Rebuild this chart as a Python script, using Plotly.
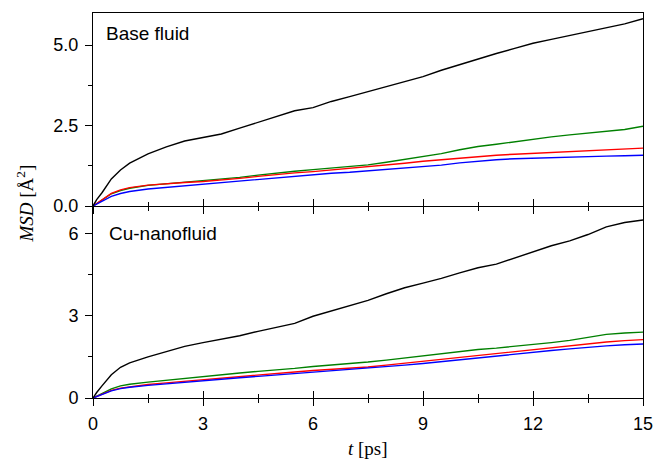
import plotly.graph_objects as go

# time axis (ps)
t = [0, 0.1, 0.25, 0.5, 0.75, 1, 1.5, 2, 2.5, 3, 3.5, 4, 4.5, 5, 5.5, 6, 6.5, 7, 7.5,
     8, 8.5, 9, 9.5, 10, 10.5, 11, 11.5, 12, 12.5, 13, 13.5, 14, 14.5, 15]

# Base fluid MSD
base_black = [0, 0.20, 0.42, 0.84, 1.12, 1.33, 1.62, 1.84, 2.02, 2.14, 2.24, 2.42, 2.60, 2.80,
              2.96, 3.06, 3.25, 3.40, 3.56, 3.70, 3.86, 4.02, 4.22, 4.40, 4.58, 4.74, 4.90,
              5.06, 5.18, 5.30, 5.43, 5.53, 5.66, 5.82]
base_green = [0, 0.08, 0.20, 0.38, 0.48, 0.55, 0.64, 0.69, 0.74, 0.77, 0.82, 0.89, 0.96, 1.03,
              1.08, 1.13, 1.18, 1.23, 1.28, 1.36, 1.45, 1.52, 1.63, 1.75, 1.85, 1.92, 2.00,
              2.09, 2.15, 2.21, 2.26, 2.31, 2.38, 2.48]
base_red = [0, 0.08, 0.21, 0.39, 0.50, 0.57, 0.65, 0.70, 0.73, 0.76, 0.80, 0.86, 0.92, 0.98,
            1.03, 1.07, 1.12, 1.17, 1.21, 1.27, 1.33, 1.39, 1.44, 1.50, 1.55, 1.58, 1.61,
            1.64, 1.67, 1.69, 1.71, 1.74, 1.77, 1.80]
base_blue = [0, 0.06, 0.15, 0.30, 0.39, 0.45, 0.53, 0.58, 0.63, 0.66, 0.71, 0.76, 0.82, 0.88,
             0.93, 0.98, 1.02, 1.05, 1.09, 1.13, 1.17, 1.21, 1.27, 1.34, 1.40, 1.44, 1.47,
             1.49, 1.51, 1.53, 1.54, 1.55, 1.56, 1.58]

# Cu-nanofluid MSD
cu_black = [0, 0.20, 0.45, 0.85, 1.12, 1.28, 1.50, 1.70, 1.88, 2.02, 2.14, 2.27, 2.43, 2.57,
            2.72, 2.98, 3.18, 3.36, 3.56, 3.80, 4.02, 4.19, 4.36, 4.56, 4.75, 4.88, 5.10,
            5.34, 5.55, 5.73, 5.96, 6.24, 6.40, 6.49]
cu_green = [0, 0.07, 0.18, 0.33, 0.44, 0.50, 0.58, 0.65, 0.72, 0.79, 0.85, 0.91, 0.97, 1.02,
            1.08, 1.15, 1.20, 1.25, 1.31, 1.38, 1.46, 1.54, 1.62, 1.70, 1.77, 1.82, 1.88,
            1.95, 2.02, 2.10, 2.20, 2.32, 2.37, 2.40]
cu_red = [0, 0.06, 0.15, 0.28, 0.36, 0.41, 0.49, 0.55, 0.61, 0.66, 0.72, 0.78, 0.84, 0.89,
          0.95, 1.00, 1.04, 1.08, 1.13, 1.20, 1.27, 1.34, 1.41, 1.48, 1.55, 1.62, 1.70,
          1.77, 1.84, 1.91, 1.98, 2.04, 2.09, 2.13]
cu_blue = [0, 0.05, 0.14, 0.26, 0.34, 0.39, 0.46, 0.52, 0.58, 0.63, 0.68, 0.74, 0.79, 0.84,
           0.90, 0.95, 0.99, 1.03, 1.08, 1.14, 1.20, 1.26, 1.33, 1.40, 1.47, 1.53, 1.60,
           1.67, 1.73, 1.79, 1.85, 1.90, 1.94, 1.97]

x_ticks = [0, 3, 6, 9, 12, 15]
top_yticks = [0, 2.5, 5.0]
top_ylabels = ["0.0", "2.5", "5.0"]
bot_yticks = [0, 3, 6]
bot_ylabels = ["0", "3", "6"]

colors = ["#008000", "#ff0000", "#0000ff", "#000000"]
top_series = [base_green, base_red, base_blue, base_black]
bot_series = [cu_green, cu_red, cu_blue, cu_black]

fig = go.Figure()
for ys, c in zip(top_series, colors):
    fig.add_trace(go.Scatter(x=t, y=ys, mode="lines", line=dict(color=c, width=1.4),
                             xaxis="x", yaxis="y", showlegend=False, hoverinfo="skip"))
for ys, c in zip(bot_series, colors):
    fig.add_trace(go.Scatter(x=t, y=ys, mode="lines", line=dict(color=c, width=1.4),
                             xaxis="x2", yaxis="y2", showlegend=False, hoverinfo="skip"))
# empty traces to register overlay axes (used for ticks crossing the axis lines)
fig.add_trace(go.Scatter(x=[], y=[], xaxis="x3", yaxis="y", showlegend=False))
fig.add_trace(go.Scatter(x=[], y=[], xaxis="x4", yaxis="y2", showlegend=False))

split = 0.4987
tickfont = dict(family="Liberation Sans, Arial", size=18, color="black")

common_x = dict(range=[0, 15], tickvals=x_ticks, showgrid=False, zeroline=False,
                linecolor="black", linewidth=1, tickcolor="black", tickwidth=1,
                ticklen=7, automargin=False, ticklabeloverflow="allow",
                minor=dict(tick0=0, dtick=1.5, ticklen=4, tickcolor="black", tickwidth=1,
                           showgrid=False),
                fixedrange=True)

common_y = dict(ticks="outside", ticklen=7, tickcolor="black", tickwidth=1,
                showline=True, mirror=True, linecolor="black", linewidth=1,
                showgrid=False, zeroline=False, tickfont=tickfont, ticklabelstandoff=3,
                automargin=False, ticklabeloverflow="allow", fixedrange=True)

fig.update_layout(
    width=653, height=461,
    margin=dict(l=93, r=10, t=13, b=63, autoexpand=False),
    paper_bgcolor="white", plot_bgcolor="white",
    xaxis=dict(common_x, anchor="y", domain=[0, 1], ticks="inside", showticklabels=False,
               showline=True, mirror=True, minor_ticks="inside"),
    xaxis3=dict(common_x, anchor="y", overlaying="x", ticks="outside", showticklabels=False,
                showline=False, minor_ticks="outside"),
    xaxis2=dict(common_x, anchor="y2", domain=[0, 1], ticks="outside", showticklabels=True,
                showline=True, mirror=False, minor_ticks="outside", tickfont=tickfont,
                ticklabelstandoff=2),
    xaxis4=dict(common_x, anchor="y2", overlaying="x2", ticks="inside", showticklabels=False,
                showline=False, minor_ticks="inside"),
    yaxis=dict(common_y, domain=[split, 1], range=[0, 6], tickvals=top_yticks,
               ticktext=top_ylabels,
               minor=dict(tickvals=[1.25, 3.75], ticklen=4, ticks="outside", tickcolor="black"),
               anchor="x"),
    yaxis2=dict(common_y, domain=[0, split], range=[0, 7], tickvals=bot_yticks,
                ticktext=bot_ylabels,
                minor=dict(tickvals=[1.5, 4.5], ticklen=4, ticks="outside", tickcolor="black"),
                anchor="x2"),
    annotations=[
        dict(text="Base fluid", xref="paper", yref="paper", x=11 / 550, y=0.947,
             xanchor="left", yanchor="middle", showarrow=False,
             font=dict(family="Liberation Sans, Arial", size=19, color="black")),
        dict(text="Cu-nanofluid", xref="paper", yref="paper", x=14 / 550, y=0.428,
             xanchor="left", yanchor="middle", showarrow=False,
             font=dict(family="Liberation Sans, Arial", size=19, color="black")),
        dict(text="<i>MSD</i> [Å<sup>2</sup>]", xref="paper", yref="paper", x=0, y=0.505,
             xanchor="center", yanchor="middle", xshift=-68, textangle=-90, showarrow=False,
             font=dict(family="Liberation Serif, Times New Roman", size=19, color="black")),
        dict(text="<i>t</i> [ps]", xref="paper", yref="paper", x=0.5, y=0,
             xanchor="center", yanchor="middle", yshift=-50, showarrow=False,
             font=dict(family="Liberation Serif, Times New Roman", size=19, color="black")),
    ],
)

fig.write_html("out.html")
